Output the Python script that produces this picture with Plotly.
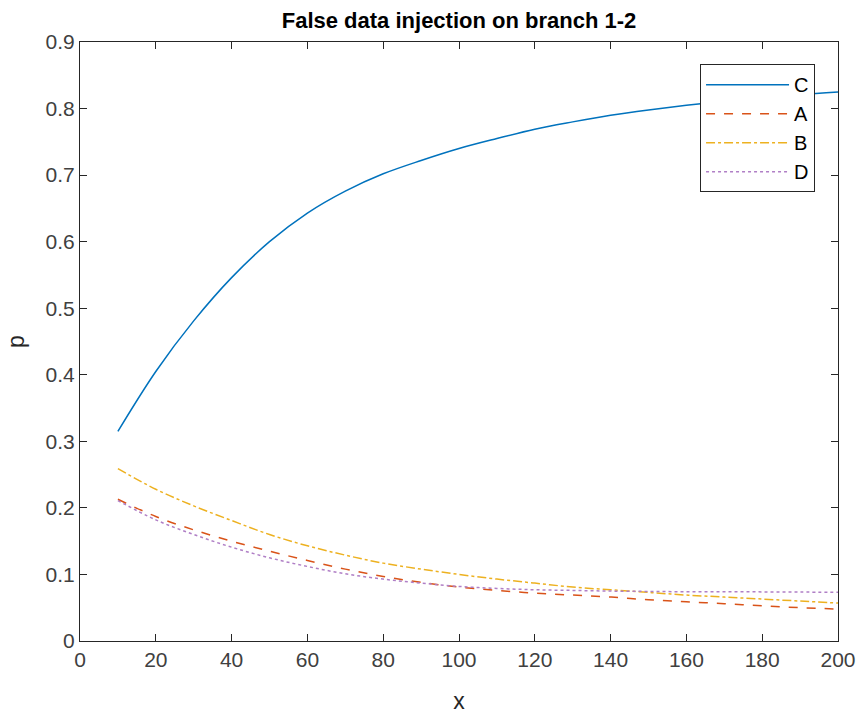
import plotly.graph_objects as go

x = [10, 20, 30, 40, 50, 60, 70, 80, 90, 100, 110, 120, 130, 140, 150, 160, 170, 180, 190, 200]
C = [0.315, 0.405, 0.481, 0.546, 0.600, 0.643, 0.676, 0.702, 0.722, 0.740, 0.755, 0.769, 0.780, 0.790, 0.798, 0.805, 0.811, 0.816, 0.821, 0.825]
A = [0.213, 0.187, 0.167, 0.150, 0.135, 0.121, 0.108, 0.097, 0.088, 0.081, 0.076, 0.072, 0.069, 0.066, 0.062, 0.059, 0.056, 0.053, 0.050, 0.048]
B = [0.259, 0.228, 0.203, 0.181, 0.160, 0.143, 0.129, 0.117, 0.108, 0.100, 0.093, 0.087, 0.081, 0.077, 0.073, 0.069, 0.066, 0.063, 0.060, 0.057]
D = [0.211, 0.182, 0.160, 0.141, 0.125, 0.112, 0.101, 0.093, 0.087, 0.082, 0.079, 0.077, 0.076, 0.075, 0.0745, 0.074, 0.074, 0.0738, 0.0735, 0.0733]
x_ticks = [0, 20, 40, 60, 80, 100, 120, 140, 160, 180, 200]
y_ticks = [0, 0.1, 0.2, 0.3, 0.4, 0.5, 0.6, 0.7, 0.8, 0.9]
y_tick_text = ["0", "0.1", "0.2", "0.3", "0.4", "0.5", "0.6", "0.7", "0.8", "0.9"]

FONT = "Liberation Sans, Arial, Helvetica"

fig = go.Figure()
fig.add_trace(go.Scatter(x=x, y=C, name="C", mode="lines", line=dict(color="#0072BD", width=1.5, shape="spline")))
fig.add_trace(go.Scatter(x=x, y=A, name="A", mode="lines", line=dict(color="#D95319", width=1.5, dash="dash", shape="spline")))
fig.add_trace(go.Scatter(x=x, y=B, name="B", mode="lines", line=dict(color="#EDB120", width=1.5, dash="dashdot", shape="spline")))
fig.add_trace(go.Scatter(x=x, y=D, name="D", mode="lines", line=dict(color="#B07FC6", width=1.5, dash="dot", shape="spline")))

axis_common = dict(showline=True, linecolor="#262626", linewidth=1, mirror="ticks",
                   ticks="inside", ticklen=7, tickcolor="#262626", showgrid=False, zeroline=False,
                   automargin=False,
                   tickfont=dict(family=FONT, size=21, color="#404040"))

fig.update_layout(
    width=858, height=715,
    margin=dict(l=80, r=20, t=42, b=74),
    paper_bgcolor="white", plot_bgcolor="white",
    title=dict(text="<b>False data injection on branch 1-2</b>", x=0.535, xanchor="center",
               yref="container", y=1 - 20 / 715, yanchor="middle",
               font=dict(family=FONT, size=22, color="#000000")),
    xaxis=dict(range=[0, 200], tickvals=x_ticks,
               title=dict(text="x", font=dict(family=FONT, size=23, color="#262626"), standoff=22), **axis_common),
    yaxis=dict(range=[0, 0.9], tickvals=y_ticks, ticktext=y_tick_text,
               title=dict(text="p", font=dict(family=FONT, size=23, color="#262626"), standoff=14), **axis_common),
    legend=dict(x=0.818, y=0.963, xanchor="left", yanchor="top", bgcolor="white",
                bordercolor="#262626", borderwidth=1,
                font=dict(family=FONT, size=20, color="#000000"),
                itemwidth=83, tracegroupgap=0),
    showlegend=True,
)

fig.write_html("out.html")
